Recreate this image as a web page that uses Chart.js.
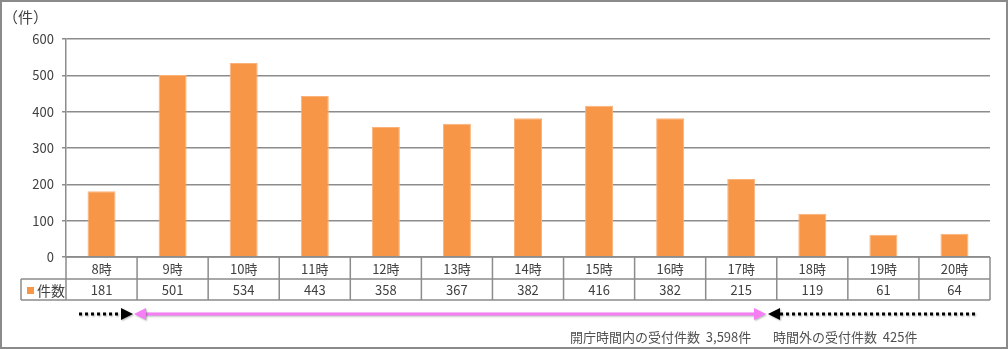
<!DOCTYPE html>
<html>
<head>
<meta charset="utf-8">
<script src="https://cdn.jsdelivr.net/npm/chart.js@4"></script>
<style>
  html, body { margin: 0; padding: 0; background: #fff; }
  #wrap { width: 1008px; height: 350px; position: relative; }
</style>
</head>
<body>
<div id="wrap"><canvas id="chart" width="1008" height="350"></canvas></div>
<script>
// データ
const hours = ["8時", "9時", "10時", "11時", "12時", "13時", "14時", "15時", "16時", "17時", "18時", "19時", "20時"];
const counts = [181, 501, 534, 443, 358, 367, 382, 416, 382, 215, 119, 61, 64];
const seriesName = "件数";
const unitLabel = "（件）";
const insideText = "開庁時間内の受付件数  3,598件";
const outsideText = "時間外の受付件数  425件";

const FONT = "'Noto Sans CJK JP', 'Noto Sans', sans-serif";
const TEXT = "#404040";
const LINE = "#8c8c8c";
const ORANGE = "#f79646";

// 下の表・矢印・枠線を描く
const tablePlugin = {
  id: "dataTable",
  afterDraw(chart) {
    const ctx = chart.ctx;
    const x = chart.scales.x;
    const area = chart.chartArea;
    const top = area.bottom;
    const mid = top + 22;
    const bot = top + 43;
    const left0 = 21;
    const step = (area.right - area.left) / hours.length;

    ctx.save();
    ctx.strokeStyle = LINE;
    ctx.lineWidth = 1.5;
    ctx.beginPath();
    ctx.moveTo(area.left, top); ctx.lineTo(area.right, top);
    ctx.moveTo(left0, mid); ctx.lineTo(area.right, mid);
    ctx.moveTo(left0, bot); ctx.lineTo(area.right, bot);
    ctx.moveTo(left0, mid); ctx.lineTo(left0, bot);
    for (let i = 0; i <= hours.length; i++) {
      const xx = area.left + i * step;
      ctx.moveTo(xx, top); ctx.lineTo(xx, bot);
    }
    ctx.stroke();

    ctx.fillStyle = TEXT;
    ctx.font = "13px " + FONT;
    ctx.textAlign = "center";
    ctx.textBaseline = "middle";
    hours.forEach((h, i) => {
      const cx = x.getPixelForValue(i);
      ctx.fillText(h, cx, (top + mid) / 2 + 1);
      ctx.fillText(String(counts[i]), cx, (mid + bot) / 2 + 1);
    });

    // 凡例セル
    ctx.fillStyle = ORANGE;
    ctx.fillRect(27, mid + 8, 7, 7);
    ctx.fillStyle = TEXT;
    ctx.font = "14px " + FONT;
    ctx.textAlign = "left";
    ctx.fillText(seriesName, 37, (mid + bot) / 2 + 1);

    // 単位
    ctx.font = "15px " + FONT;
    ctx.fillText(unitLabel, 3, 17);

    // 矢印
    const ay = 314;
    ctx.shadowColor = "rgba(0,0,0,0.3)";
    ctx.shadowBlur = 2;
    ctx.shadowOffsetX = 1;
    ctx.shadowOffsetY = 1;

    function head(tipX, dir, color) {
      ctx.fillStyle = color;
      ctx.beginPath();
      ctx.moveTo(tipX, ay);
      ctx.lineTo(tipX - dir * 12, ay - 6);
      ctx.lineTo(tipX - dir * 12, ay + 6);
      ctx.closePath();
      ctx.fill();
    }

    ctx.strokeStyle = "#000";
    ctx.lineWidth = 3;
    ctx.setLineDash([3, 3]);
    ctx.beginPath();
    ctx.moveTo(79, ay); ctx.lineTo(122, ay);
    ctx.moveTo(780, ay); ctx.lineTo(977, ay);
    ctx.stroke();
    ctx.setLineDash([]);
    head(133, 1, "#000");
    head(768, -1, "#000");

    ctx.strokeStyle = "#f57ef5";
    ctx.beginPath();
    ctx.moveTo(143, ay); ctx.lineTo(757, ay);
    ctx.stroke();
    head(134, -1, "#f57ef5");
    head(766, 1, "#f57ef5");

    ctx.shadowColor = "transparent";
    ctx.fillStyle = "#505050";
    ctx.font = "13px " + FONT;
    ctx.textAlign = "left";
    ctx.fillText(insideText, 570, 337);
    ctx.fillText(outsideText, 773, 337);

    // 外枠
    ctx.strokeStyle = "#8a8a8a";
    ctx.lineWidth = 2;
    ctx.strokeRect(1, 1, 1006, 347);
    ctx.restore();
  }
};

new Chart(document.getElementById("chart"), {
  type: "bar",
  data: {
    labels: hours,
    datasets: [{
      label: seriesName,
      data: counts,
      backgroundColor: ORANGE,
      borderColor: "#fab27a",
      borderWidth: { left: 1, right: 1, top: 1, bottom: 0 },
      barPercentage: 0.394,
      categoryPercentage: 1
    }]
  },
  options: {
    responsive: false,
    animation: false,
    layout: { padding: { left: 0, top: 39, right: 18, bottom: 93 } },
    plugins: {
      legend: { display: false },
      tooltip: { enabled: false }
    },
    scales: {
      x: { display: false },
      y: {
        min: 0,
        max: 600,
        afterFit(scale) { scale.width = 66; },
        ticks: {
          stepSize: 100,
          padding: 8,
          color: TEXT,
          font: { family: FONT, size: 13 }
        },
        grid: { color: LINE, lineWidth: 1.5, tickLength: 4 },
        border: { color: LINE, width: 1.5 }
      }
    }
  },
  plugins: [tablePlugin]
});
</script>
</body>
</html>
